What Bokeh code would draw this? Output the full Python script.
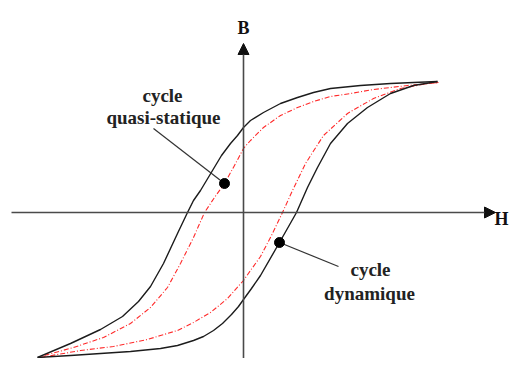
from bokeh.plotting import figure
from bokeh.models import Arrow, NormalHead, ColumnDataSource
from bokeh.core.properties import value
from bokeh.embed import file_html
from bokeh.resources import INLINE

# Dynamic cycle (black), descending branch (from +saturation to -saturation)
dyn_down_H = [194, 170, 147, 117, 87, 70, 54, 37, 20, 7, 0, -6, -13, -22, -31, -43, -50, -56,
              -66, -80, -93, -105, -121, -143, -173, -206]
dyn_down_B = [131, 130, 129, 127, 124, 120, 115, 109, 100, 92, 85, 77, 69, 57, 42, 22, 12, 0,
              -21, -51, -74, -89, -104, -117, -131, -145]
# Dynamic cycle, ascending branch
dyn_up_H = [-206, -173, -143, -113, -83, -66, -50, -40, -30, -21, -12, -5, 0, 8, 17, 36, 53,
            64, 74, 87, 104, 124, 147, 170, 194]
dyn_up_B = [-145, -143, -141, -139, -136, -133, -128, -124, -118, -111, -102, -94, -87, -76,
            -63, -30, 0, 25, 45, 69, 89, 105, 119, 127, 131]

# Quasi-static cycle (red), descending branch
qs_down_H = [195, 164, 130, 107, 87, 70, 54, 37, 20, 7, 0, -9, -19, -29, -39, -50, -63, -76,
             -93, -113, -140, -170, -203]
qs_down_B = [130, 127, 123, 119, 116, 111, 105, 97, 85, 72, 64, 47, 29, 15, 0, -25, -51, -75,
             -95, -111, -125, -135, -144]
# Quasi-static cycle, ascending branch
qs_up_H = [-203, -163, -130, -96, -83, -66, -50, -33, -16, 0, 7, 17, 28, 39, 49, 62, 80, 104,
           130, 157, 184, 195]
qs_up_B = [-145, -138, -134, -127, -123, -118, -110, -100, -86, -68, -58, -44, -23, 0, 22, 49,
           77, 99, 114, 124, 129, 130]

# Marker points on each cycle and label anchors
marker_H = [-19, 36]
marker_B = [29, -30]
leader_end_H = [-90, 95]
leader_end_B = [84, -54]

label_texts = ["cycle", "quasi-statique", "cycle", "dynamique"]
label_H = [-81, -80, 127, 126]
label_B = [117, 95, -57, -81]

axis_H_range = [-232, 252]
axis_B_range = [-170, 169]

p = figure(width=509, height=358, x_range=(-243, 266), y_range=(-146, 212),
           x_axis_type=None, y_axis_type=None, output_backend="svg",
           toolbar_location=None, min_border=0)
p.grid.visible = False
p.outline_line_color = None
p.background_fill_color = "white"

axis_col = "#4a4a4a"
# Axes with arrows
p.add_layout(Arrow(x_start=axis_H_range[0], y_start=0, x_end=axis_H_range[1], y_end=0,
                   line_color=axis_col, line_width=1.6,
                   end=NormalHead(size=11, fill_color="#111111", line_color="#111111")))
p.add_layout(Arrow(x_start=0, y_start=axis_B_range[0], x_end=0, y_end=axis_B_range[1],
                   line_color=axis_col, line_width=1.6,
                   end=NormalHead(size=11, fill_color="#111111", line_color="#111111")))

# Curves
red = "#ff2a2a"
p.line(qs_down_H, qs_down_B, line_color=red, line_width=1.1, line_dash="5 2 1 2",
       line_join="round")
p.line(qs_up_H, qs_up_B, line_color=red, line_width=1.1, line_dash="5 2 1 2",
       line_join="round")
p.line(dyn_down_H, dyn_down_B, line_color="#1c1c1c", line_width=1.4, line_join="round")
p.line(dyn_up_H, dyn_up_B, line_color="#1c1c1c", line_width=1.4, line_join="round")

# Leader lines and markers
p.segment(x0=marker_H, y0=marker_B, x1=leader_end_H, y1=leader_end_B,
          line_color="#333333", line_width=1.2)
p.scatter(marker_H, marker_B, size=10, fill_color="black", line_color="black")

# Labels
src = ColumnDataSource(dict(x=label_H, y=label_B, t=label_texts))
p.text(x="x", y="y", text="t", source=src, text_align="center", text_baseline="alphabetic",
       text_font=value("Liberation Serif"), text_font_style="bold",
       text_font_size="19px", text_color="#222222")

p.text(x=[0], y=[185], text=["B"], text_align="center", text_baseline="alphabetic",
       text_font=value("Liberation Serif"), text_font_style="bold",
       text_font_size="18px", text_color="#111111")
p.text(x=[265], y=[-6], text=["H"], text_align="right", text_baseline="alphabetic",
       text_font=value("Liberation Serif"), text_font_style="bold",
       text_font_size="18px", text_color="#111111")

open("out.html", "w").write(file_html(p, INLINE))
